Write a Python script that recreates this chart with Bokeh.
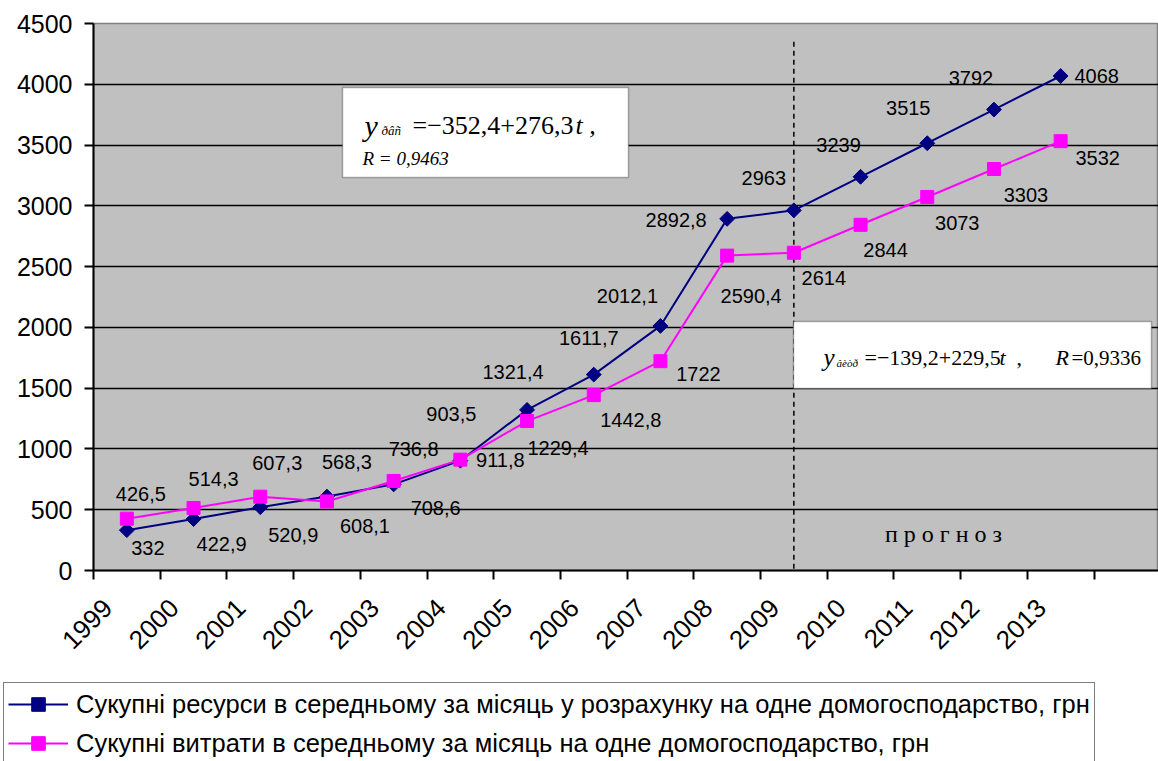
from math import pi
from bokeh.plotting import figure
from bokeh.layouts import column
from bokeh.models import (FixedTicker, Legend, LegendItem, Label, BoxAnnotation,
                          Range1d)
from bokeh.core.properties import value
from bokeh.embed import file_html
from bokeh.resources import INLINE

# ---------------- data ----------------
years = ["1999", "2000", "2001", "2002", "2003", "2004", "2005", "2006",
         "2007", "2008", "2009", "2010", "2011", "2012", "2013"]
resources = [332, 422.9, 520.9, 608.1, 708.6, 903.5, 1321.4, 1611.7,
             2012.1, 2892.8, 2963, 3239, 3515, 3792, 4068]
expenses = [426.5, 514.3, 607.3, 568.3, 736.8, 911.8, 1229.4, 1442.8,
            1722, 2590.4, 2614, 2844, 3073, 3303, 3532]
y_ticks = [0, 500, 1000, 1500, 2000, 2500, 3000, 3500, 4000, 4500]
forecast_year = "2009"
res_name = "Сукупні ресурси в середньому за місяць у розрахунку на одне домогосподарство, грн"
exp_name = "Сукупні витрати в середньому за місяць на одне домогосподарство, грн"

# label offsets (pixels) – styling only
res_dx = [21, 28, 33, 38, 42, -9, -14, -5, -33, -51, -30, -22, -19, -23, 36]
res_dy = [18, 25, 28, 29, 24, -47, -38, -37, -30, 1, -32, -32, -35, -32, 0]
exp_dx = [14, 20, 17, 20, 20, 40, 31, 37, 38, 24, 30, 25, 30, 32, 37]
exp_dy = [-25, -29, -34, -39, -32, 0, 27, 25, 13, 40, 25, 25, 26, 26, 17]


def fmt(v):
    return f"{v:g}".replace(".", ",")


xs = [i + 0.5 for i in range(len(years))]
label_xs = [x - 0.29 for x in xs]

NAVY = "#000080"
MAG = "#FF00FF"
SANS = "Liberation Sans"
SERIF = "Liberation Serif"

W = 1158
H1, H2 = 681, 80
ML, MT = 93, 23
FH = 547
MB = H1 - MT - FH
CAT = 66.7
FW = W - ML
XMAX = FW / CAT
p = figure(width=W, height=H1, x_range=Range1d(0, XMAX), y_range=Range1d(0, 4500),
           output_backend="svg", toolbar_location=None,
           min_border_left=ML, min_border_right=0, min_border_top=MT,
           min_border_bottom=MB, background_fill_color="#C0C0C0",
           border_fill_color="white", outline_line_color="#808080",
           outline_line_width=1.5)
p.frame_align = False

PX0, PY0 = ML, MT + FH


def dx(px):
    return (px - PX0) / FW * XMAX


def dy(py):
    return (PY0 - py) / FH * 4500


# grid
p.xgrid.visible = False
p.ygrid.ticker = FixedTicker(ticks=y_ticks)
p.ygrid.grid_line_color = "black"
p.ygrid.grid_line_width = 1.5

# axes
p.yaxis.ticker = FixedTicker(ticks=y_ticks, minor_ticks=[])
p.yaxis.axis_line_color = "black"
p.yaxis.axis_line_width = 2
p.yaxis.major_tick_line_color = "black"
p.yaxis.major_tick_line_width = 2
p.yaxis.major_tick_out = 9
p.yaxis.major_tick_in = 0
p.yaxis.minor_tick_line_color = None
p.yaxis.major_label_standoff = 12
p.yaxis.major_label_text_font = SANS
p.yaxis.major_label_text_font_size = "25px"
p.yaxis.major_label_text_color = "black"

p.xaxis.ticker = FixedTicker(ticks=label_xs, minor_ticks=list(range(len(years) + 2)))
p.xaxis.major_label_overrides = {x: y for x, y in zip(label_xs, years)}
p.xaxis.axis_line_color = "black"
p.xaxis.axis_line_width = 2
p.xaxis.major_tick_line_color = None
p.xaxis.major_tick_out = 9
p.xaxis.major_tick_in = 0
p.xaxis.minor_tick_line_color = "black"
p.xaxis.minor_tick_line_width = 2
p.xaxis.minor_tick_out = 9
p.xaxis.minor_tick_in = 0
p.xaxis.major_label_orientation = pi / 4
p.xaxis.major_label_standoff = 24
p.xaxis.major_label_text_font = SANS
p.xaxis.major_label_text_font_size = "26px"
p.xaxis.major_label_text_color = "black"

# forecast divider
fx = years.index(forecast_year) + 0.5
p.segment(x0=[fx], y0=[4350], x1=[fx], y1=[0], line_color="black",
          line_width=1.5, line_dash="5 4")

# series
p.line(xs, resources, line_color=NAVY, line_width=2)
p.scatter(xs, resources, marker="square", angle=pi / 4, size=10.5,
          fill_color=NAVY, line_color=NAVY)
p.line(xs, expenses, line_color=MAG, line_width=2)
p.scatter(xs, expenses, marker="square", size=13,
          fill_color=MAG, line_color=MAG)

p.text(xs, resources, text=[fmt(v) for v in resources], x_offset=res_dx,
       y_offset=res_dy, text_align="center", text_baseline="middle",
       text_font=value(SANS), text_font_size="20px", text_color="black")
p.text(xs, expenses, text=[fmt(v) for v in expenses], x_offset=exp_dx,
       y_offset=exp_dy, text_align="center", text_baseline="middle",
       text_font=value(SANS), text_font_size="20px", text_color="black")

# equation boxes
p.add_layout(BoxAnnotation(left=dx(342), right=dx(628), top=dy(87), bottom=dy(177),
                           fill_color="white", fill_alpha=1, line_color="black",
                           line_width=1.5))
p.add_layout(BoxAnnotation(left=dx(793), right=dx(1151), top=dy(321), bottom=dy(388),
                           fill_color="white", fill_alpha=1, line_color="black",
                           line_width=1.5))


def lab(text, px, py, size, style="normal", font=SERIF, align="left",
        baseline="alphabetic"):
    p.add_layout(Label(x=dx(px), y=dy(py), text=text, text_font=font,
                       text_font_size=f"{size}px", text_font_style=style,
                       text_align=align, text_baseline=baseline,
                       text_color="black"))


lab("y", 364, 125, 30, "italic")
lab("ðâñ", 381, 130, 13, "italic")
lab("=−352,4+276,3", 412, 125, 26)
lab("t ,", 575, 125, 26, "italic")
lab("R = 0,9463", 362, 158, 19, "italic")

lab("y", 823, 357, 25, "italic")
lab("âèòð", 836, 362, 11, "italic")
lab("=−139,2+229,5", 864, 357, 22)
lab("t", 999, 357, 22, "italic")
lab(",", 1016, 357, 22)
lab("R", 1055, 357, 22, "italic")
lab("=0,9336", 1071, 357, 21)

lab("п р о г н о з", 943, 533, 24, align="center", baseline="middle")

# ---------------- legend figure ----------------
q = figure(width=W, height=H2, x_range=Range1d(0, 1), y_range=Range1d(0, 1),
           output_backend="svg", toolbar_location=None,
           x_axis_type=None, y_axis_type=None, min_border=0,
           min_border_left=0, min_border_right=0, min_border_top=0,
           min_border_bottom=0,
           outline_line_color=None, background_fill_color="white",
           border_fill_color="white")
q.frame_align = False
q.xgrid.visible = False
q.ygrid.visible = False
nan = float("nan")
ql1 = q.line([nan], [nan], line_color=NAVY, line_width=2)
qs1 = q.scatter([nan], [nan], marker="square", angle=pi / 4, size=11,
                fill_color=NAVY, line_color=NAVY)
ql2 = q.line([nan], [nan], line_color=MAG, line_width=2)
qs2 = q.scatter([nan], [nan], marker="square", size=13,
                fill_color=MAG, line_color=MAG)

legend = Legend(items=[LegendItem(label=res_name, renderers=[ql1, qs1]),
                       LegendItem(label=exp_name, renderers=[ql2, qs2])],
                location=(3, -4),
                label_text_font=SANS, label_text_font_size="25.5px",
                label_text_color="black",
                border_line_color="black", border_line_width=1.5,
                background_fill_color="white", background_fill_alpha=1,
                padding=4, spacing=5, glyph_width=60, glyph_height=34,
                label_height=34, label_standoff=8, margin=0)
q.add_layout(legend)

open("out.html", "w").write(file_html(column(p, q, spacing=0), INLINE))
